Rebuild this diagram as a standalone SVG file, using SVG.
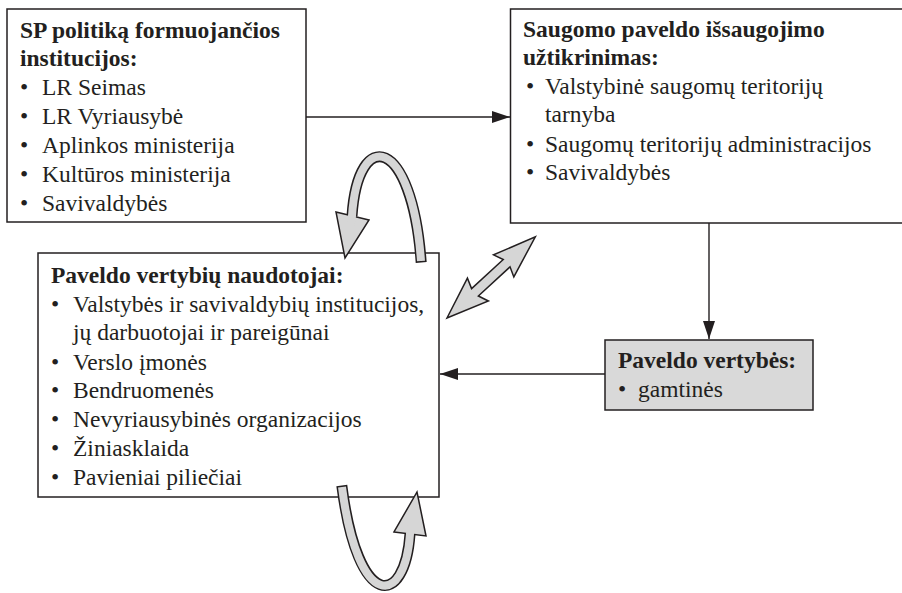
<svg xmlns="http://www.w3.org/2000/svg" width="902" height="593" viewBox="0 0 902 593">
  <style>
    .box { fill: #ffffff; stroke: #231f20; stroke-width: 1.5; }
    .box.shade { fill: #d9d9d9; }
    .t { font-family: "Liberation Serif", "Times New Roman", serif; font-size: 23.5px; fill: #231f20; }
    .b { font-weight: bold; }
    .conn { stroke: #231f20; stroke-width: 1.4; fill: none; }
    .band-out { stroke: #231f20; stroke-width: 11; fill: none; stroke-linecap: butt; }
    .band-in { stroke: #d6d6d6; stroke-width: 8; fill: none; stroke-linecap: butt; }
    .head { fill: #d6d6d6; stroke: #231f20; stroke-width: 1.5; stroke-linejoin: miter; }
  </style>
  <defs>
    <marker id="arrow" viewBox="0 0 18 12" refX="18" refY="6" markerWidth="18" markerHeight="12" markerUnits="userSpaceOnUse" orient="auto">
      <path d="M0 0 L18 6 L0 12 Z" fill="#231f20"/>
    </marker>
  </defs>

  <rect width="902" height="593" fill="#ffffff"/>

  <!-- policy-making institutions -->
  <g id="node-institucijos">
    <rect class="box" x="7" y="9" width="299" height="213"/>
    <text class="t b" x="20" y="38">SP politiką formuojančios</text>
    <text class="t b" x="20" y="66">institucijos:</text>
    <text class="t" x="20" y="95">•</text><text class="t" x="42" y="95">LR Seimas</text>
    <text class="t" x="20" y="124">•</text><text class="t" x="42" y="124">LR Vyriausybė</text>
    <text class="t" x="20" y="153">•</text><text class="t" x="42" y="153">Aplinkos ministerija</text>
    <text class="t" x="20" y="182">•</text><text class="t" x="42" y="182">Kultūros ministerija</text>
    <text class="t" x="20" y="211">•</text><text class="t" x="42" y="211">Savivaldybės</text>
  </g>

  <!-- preservation of protected heritage -->
  <g id="node-issaugojimas">
    <rect class="box" x="510.5" y="9" width="400" height="214"/>
    <text class="t b" x="523" y="37">Saugomo paveldo išsaugojimo</text>
    <text class="t b" x="523" y="65">užtikrinimas:</text>
    <text class="t" x="526" y="94">•</text><text class="t" x="545" y="94">Valstybinė saugomų teritorijų</text>
    <text class="t" x="545" y="122">tarnyba</text>
    <text class="t" x="526" y="152">•</text><text class="t" x="545" y="152">Saugomų teritorijų administracijos</text>
    <text class="t" x="526" y="180">•</text><text class="t" x="545" y="180">Savivaldybės</text>
  </g>

  <!-- heritage users -->
  <g id="node-naudotojai">
    <rect class="box" x="38" y="253" width="401" height="244"/>
    <text class="t b" x="51" y="283">Paveldo vertybių naudotojai:</text>
    <text class="t" x="51" y="312">•</text><text class="t" x="73" y="312">Valstybės ir savivaldybių institucijos,</text>
    <text class="t" x="73" y="340">jų darbuotojai ir pareigūnai</text>
    <text class="t" x="51" y="370">•</text><text class="t" x="73" y="370">Verslo įmonės</text>
    <text class="t" x="51" y="398">•</text><text class="t" x="73" y="398">Bendruomenės</text>
    <text class="t" x="51" y="427">•</text><text class="t" x="73" y="427">Nevyriausybinės organizacijos</text>
    <text class="t" x="51" y="456">•</text><text class="t" x="73" y="456">Žiniasklaida</text>
    <text class="t" x="51" y="485">•</text><text class="t" x="73" y="485">Pavieniai piliečiai</text>
  </g>

  <!-- heritage values -->
  <g id="node-vertybes">
    <rect class="box shade" x="605" y="340" width="208" height="70"/>
    <text class="t b" x="618" y="368">Paveldo vertybės:</text>
    <text class="t" x="618" y="397">•</text><text class="t" x="638" y="397">gamtinės</text>
  </g>

  <g id="connectors">
    <line class="conn" x1="306" y1="117" x2="510" y2="117" marker-end="url(#arrow)"/>
    <line class="conn" x1="709" y1="223" x2="709" y2="339" marker-end="url(#arrow)"/>
    <line class="conn" x1="605" y1="374" x2="440" y2="374" marker-end="url(#arrow)"/>

    <!-- two-way block arrow -->
    <polygon class="head" transform="translate(447 318) rotate(-42.6)"
      points="0,0 42,-15.5 38,-5 81,-5 77,-15 120,0 77,15 81,5 38,5 42,15.5"/>

    <!-- loop above the users box -->
    <path class="band-out" d="M 421.2 262.5 C 412 136, 358 126, 352 216"/>
    <path class="head" d="M 336 212 L 369 220 L 345 258 Z"/>
    <path class="band-in" d="M 421 261 C 412 136, 358 126, 352 216 L 350.5 226"/>

    <!-- loop below the users box -->
    <path class="band-out" d="M 341.8 485.5 C 358 612, 405 607, 410 534"/>
    <path class="head" d="M 394 532 L 426 536 L 417 492 Z"/>
    <path class="band-in" d="M 342 487 C 358 612, 405 607, 410 534 L 411.5 524"/>
  </g>
</svg>
